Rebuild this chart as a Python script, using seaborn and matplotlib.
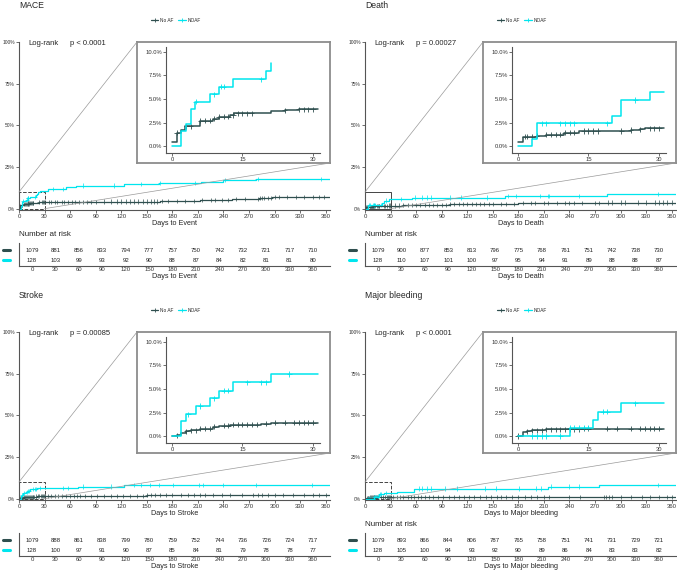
import numpy as np
import pandas as pd
import seaborn as sns
import matplotlib.pyplot as plt
from matplotlib.lines import Line2D
from matplotlib.patches import Rectangle, ConnectionPatch

## Datos (incidencia acumulada en %)
groups = ['No AF', 'NOAF']
palette = {'No AF': '#2F4F4F', 'NOAF': '#00E5EE'}
risk_times = [0, 30, 60, 90, 120, 150, 180, 210, 240, 270, 300, 330, 360]

# MACE
mace_t_ctrl = [0, 1, 2, 2.7, 6, 8.7, 10, 12.3, 13.3, 21, 24, 27, 40, 100, 166, 212, 250, 282, 297]
mace_y_ctrl = [0.4, 1.4, 1.7, 2.1, 2.7, 2.9, 3.1, 3.3, 3.5, 3.7, 3.8, 3.9, 4.1, 4.3, 4.6, 5.2, 5.8, 6.5, 6.9]
mace_t_noaf = [0, 2, 3, 4, 4.8, 8, 10, 13, 20, 21, 22, 25, 34, 55, 67, 123, 164, 214, 240, 278]
mace_y_noaf = [0, 1.6, 2.3, 3.9, 4.7, 5.5, 6.3, 7.1, 8.0, 8.8, 10.0, 10.8, 11.6, 13.1, 13.9, 14.7, 15.5, 16.3, 17.0, 17.8]
mace_c_ctrl = [1, 3, 4, 6, 7, 8, 9, 10, 11, 12, 13, 14, 15, 16, 17, 24, 27, 28, 29, 30, 35, 38, 42, 45, 50, 53,
               58, 62, 66, 70, 75, 80, 85, 90, 100, 108, 115, 120, 125, 130, 135, 140, 145, 150, 155, 158, 162,
               168, 175, 185, 195, 205, 215, 225, 230, 238, 245, 255, 265, 281, 283, 285, 288, 292, 296, 300,
               305, 315, 325, 335, 345, 352, 358]
mace_c_noaf = [5, 9, 10.5, 11, 19, 40, 52, 75, 112, 143, 166, 207, 242, 280, 354]
mace_risk_ctrl = [1079, 881, 856, 833, 794, 777, 757, 750, 742, 732, 721, 717, 710]
mace_risk_noaf = [128, 103, 99, 93, 92, 90, 88, 87, 84, 82, 81, 81, 80]

# Death
death_t_ctrl = [0, 1, 4, 6, 9.7, 13, 24, 26, 27, 45, 100, 180, 280]
death_y_ctrl = [0.4, 1.0, 1.1, 1.2, 1.4, 1.6, 1.7, 1.8, 1.9, 2.3, 2.8, 3.2, 3.7]
death_t_noaf = [0, 3, 4, 20, 22, 28, 55, 164, 284]
death_y_noaf = [0, 0.8, 2.4, 3.2, 4.9, 5.7, 6.7, 7.6, 8.6]
death_c_ctrl = [1.5, 2, 3, 4, 6, 7, 8, 9, 10, 11, 12, 14, 15, 16, 17, 22, 24, 26, 28, 29, 30, 35, 40, 45, 50,
                55, 60, 65, 70, 75, 80, 85, 90, 95, 100, 105, 110, 115, 120, 125, 130, 135, 140, 145, 150, 160,
                165, 175, 185, 195, 200, 210, 215, 225, 235, 240, 245, 255, 270, 275, 285, 290, 300, 305, 320,
                330, 340, 345, 350, 355, 360]
death_c_noaf = [5, 6, 9, 10, 11, 12, 19, 25, 42, 59, 67, 73, 77, 100, 113, 143, 168, 177, 205, 215, 216, 251, 344]
death_risk_ctrl = [1079, 900, 877, 853, 813, 796, 775, 768, 761, 751, 742, 738, 730]
death_risk_noaf = [128, 110, 107, 101, 100, 97, 95, 94, 91, 89, 88, 88, 87]

# Stroke
stroke_t_ctrl = [0, 1, 2, 3, 4, 6, 8.7, 10, 12.3, 19, 21, 60, 150, 280]
stroke_y_ctrl = [0, 0.1, 0.3, 0.5, 0.6, 0.8, 1.0, 1.1, 1.2, 1.3, 1.4, 1.6, 2.0, 2.2]
stroke_t_noaf = [0, 2, 3, 5, 8, 10, 13, 21, 69, 123]
stroke_y_noaf = [0, 1.6, 2.3, 3.2, 4.0, 4.8, 5.7, 6.6, 7.3, 8.4]
stroke_c_ctrl = [1, 3, 4, 5, 6, 7, 8, 9, 11, 12, 13, 14, 15, 16, 17, 18, 20, 22, 24, 26, 27, 28, 29, 30, 34,
                 38, 42, 46, 50, 55, 60, 64, 68, 72, 78, 85, 92, 100, 108, 115, 122, 130, 138, 145, 150, 155,
                 160, 165, 172, 180, 190, 198, 205, 212, 218, 228, 238, 248, 262, 275, 280, 285, 292, 300, 310,
                 322, 335, 345, 352, 360]
stroke_c_noaf = [3.5, 6, 9, 11, 12, 16, 19, 20, 25, 52, 57, 75, 108, 135, 143, 154, 164, 181, 211, 216, 240,
                 278, 344]
stroke_risk_ctrl = [1079, 888, 861, 838, 799, 780, 759, 752, 744, 736, 726, 724, 717]
stroke_risk_noaf = [128, 100, 97, 91, 90, 87, 85, 84, 81, 79, 78, 78, 77]

# Major bleeding
bleed_t_ctrl = [0, 1, 2, 3, 6, 14, 120, 280]
bleed_y_ctrl = [0, 0.4, 0.5, 0.6, 0.7, 0.8, 1.0, 1.2]
bleed_t_noaf = [0, 11, 16, 17, 22, 38, 57, 215, 275]
bleed_y_noaf = [0, 0.9, 1.7, 2.6, 3.5, 4.3, 6.1, 7.3, 8.4]
bleed_c_ctrl = [0, 2, 3, 4, 5, 6, 7, 8, 9, 10, 11, 12, 13, 14, 15, 19, 21, 24, 26, 27, 28, 29, 30, 33, 37,
                41, 45, 50, 54, 58, 62, 66, 70, 75, 80, 86, 92, 98, 104, 110, 116, 122, 128, 135, 142, 148, 155,
                160, 166, 172, 180, 188, 195, 202, 210, 216, 240, 252, 280, 283, 286, 290, 300, 312, 325, 335,
                345, 355, 360]
bleed_c_noaf = [3, 4, 5, 6, 9, 11, 12, 13, 14, 15, 18, 19, 25, 63, 67, 73, 77, 94, 108, 141, 154, 181, 201,
                207, 218, 240, 251, 344]
bleed_risk_ctrl = [1079, 893, 866, 844, 806, 787, 765, 758, 751, 741, 731, 729, 721]
bleed_risk_noaf = [128, 105, 100, 94, 93, 92, 90, 89, 86, 84, 83, 83, 82]

titles = ['MACE', 'Death', 'Stroke', 'Major bleeding']
xlabels = ['Days to Event', 'Days to Death', 'Days to Stroke', 'Days to Major bleeding']
pvals = ['p < 0.0001', 'p = 0.00027', 'p = 0.00085', 'p < 0.0001']

panels = [
    (mace_t_ctrl, mace_y_ctrl, mace_t_noaf, mace_y_noaf, mace_c_ctrl, mace_c_noaf, mace_risk_ctrl, mace_risk_noaf, 21),
    (death_t_ctrl, death_y_ctrl, death_t_noaf, death_y_noaf, death_c_ctrl, death_c_noaf, death_risk_ctrl, death_risk_noaf, 31),
    (stroke_t_ctrl, stroke_y_ctrl, stroke_t_noaf, stroke_y_noaf, stroke_c_ctrl, stroke_c_noaf, stroke_risk_ctrl, stroke_risk_noaf, 31),
    (bleed_t_ctrl, bleed_y_ctrl, bleed_t_noaf, bleed_y_noaf, bleed_c_ctrl, bleed_c_noaf, bleed_risk_ctrl, bleed_risk_noaf, 31),
]
offsets = [(0, 0), (346, 0), (0, 290), (346, 290)]
show_risk_title = [True, True, False, True]
rect_style = ['--', '-', '--', '--']

sns.set_theme(style='ticks')
plt.rcParams['font.family'] = ['Liberation Sans', 'DejaVu Sans']

W, H = 677, 577
fig = plt.figure(figsize=(W / 100, H / 100), dpi=100)


def fbox(x0, y0, x1, y1):
    return [x0 / W, 1 - y1 / H, (x1 - x0) / W, (y1 - y0) / H]


def fxy(x, y):
    return (x / W, 1 - y / H)


def step_df(t_list, y_list, group, end):
    t = [v for v in t_list if v <= end]
    y = y_list[:len(t)]
    return pd.DataFrame({'time': t + [end], 'risk': y + [y[-1]], 'group': group})


def cens_df(t_list, y_list, c_list, group, end):
    c = np.array([v for v in c_list if v <= end])
    idx = np.searchsorted(np.array(t_list), c, side='right') - 1
    return pd.DataFrame({'time': c, 'risk': np.array(y_list)[idx], 'group': group})


def style_axis(ax, lab_size):
    sns.despine(ax=ax)
    for s in ['left', 'bottom']:
        ax.spines[s].set_color('#555555')
        ax.spines[s].set_linewidth(0.8)
    ax.tick_params(length=2, width=0.6, color='#555555', labelcolor='#333333', labelsize=lab_size, pad=1)


for i, (tc, yc, tn, yn, cc, cn, rc, rn, inset_end) in enumerate(panels):
    ox, oy = offsets[i]

    fig.text(*fxy(ox + 19, oy + 6), titles[i], fontsize=6.2, va='center', ha='left')
    handles = [Line2D([], [], color=palette[g], marker='+', lw=0.9, ms=3, mew=0.6) for g in groups]
    fig.legend(handles, groups, loc='center', bbox_to_anchor=fxy(ox + 176, oy + 20), ncol=2, frameon=False,
               fontsize=3.4, handlelength=1.6, handletextpad=0.4, columnspacing=1.0)

    # curva principal
    ax = fig.add_axes(fbox(ox + 19, oy + 42, ox + 330, oy + 210))
    df = pd.concat([step_df(tc, yc, 'No AF', 365), step_df(tn, yn, 'NOAF', 365)])
    dfc = pd.concat([cens_df(tc, yc, cc, 'No AF', 365), cens_df(tn, yn, cn, 'NOAF', 365)])
    sns.lineplot(data=df, x='time', y='risk', hue='group', palette=palette, estimator=None, sort=False,
                 drawstyle='steps-post', lw=0.9, legend=False, ax=ax)
    sns.scatterplot(data=dfc, x='time', y='risk', hue='group', palette=palette, marker='+', s=9,
                    linewidth=0.5, legend=False, ax=ax)
    ax.set_xlim(0, 365)
    ax.set_ylim(-0.8, 100)
    ax.set_xticks(risk_times)
    ax.set_yticks([0, 25, 50, 75, 100])
    ax.set_yticklabels(['0%', '25%', '50%', '75%', '100%'])
    ax.set_xlabel(xlabels[i], fontsize=5.2, labelpad=0.5)
    ax.set_ylabel('')
    style_axis(ax, 4.3)
    ax.tick_params(axis='y', labelsize=3.5)
    ax.add_patch(Rectangle((0, 0), 30, 10, fill=False, ec='#444444', lw=0.7, ls=rect_style[i]))
    ax.text(0.03, 0.99, 'Log-rank', transform=ax.transAxes, fontsize=5.5, va='center')
    ax.text(0.165, 0.99, pvals[i], transform=ax.transAxes, fontsize=5.5, va='center')

    for xa, xb in [((0, 10), fxy(ox + 137, oy + 42)), ((30, 0), fxy(ox + 330, oy + 163))]:
        con = ConnectionPatch(xyA=xa, coordsA=ax.transData, xyB=xb, coordsB=fig.transFigure,
                              color='#9a9a9a', lw=0.5)
        fig.add_artist(con)

    # recuadro ampliado
    bax = fig.add_axes(fbox(ox + 137, oy + 42, ox + 330, oy + 163))
    bax.set_xticks([])
    bax.set_yticks([])
    for s in bax.spines.values():
        s.set_color('#8c8c8c')
        s.set_linewidth(1.3)
    iax = fig.add_axes(fbox(ox + 166, oy + 47, ox + 320, oy + 153))
    iax.patch.set_alpha(0)
    dfi = pd.concat([step_df(tc, yc, 'No AF', 31), step_df(tn, yn, 'NOAF', inset_end)])
    dfic = pd.concat([cens_df(tc, yc, cc, 'No AF', 31), cens_df(tn, yn, cn, 'NOAF', inset_end)])
    sns.lineplot(data=dfi, x='time', y='risk', hue='group', palette=palette, estimator=None, sort=False,
                 drawstyle='steps-post', lw=1.1, legend=False, ax=iax)
    sns.scatterplot(data=dfic, x='time', y='risk', hue='group', palette=palette, marker='+', s=14,
                    linewidth=0.6, legend=False, ax=iax)
    iax.set_xlim(-1.28, 31.5)
    iax.set_ylim(-0.74, 10.53)
    iax.set_xticks([0, 15, 30])
    iax.set_yticks([0, 2.5, 5, 7.5, 10])
    iax.set_yticklabels(['0.0%', '2.5%', '5.0%', '7.5%', '10.0%'])
    iax.set_xlabel('')
    iax.set_ylabel('')
    style_axis(iax, 4.2)

    # tabla de numero en riesgo
    if show_risk_title[i]:
        fig.text(*fxy(ox + 19, oy + 235), 'Number at risk', fontsize=5.8, va='center', ha='left')
    tax = fig.add_axes(fbox(ox + 19, oy + 243, ox + 330, oy + 266))
    tax.set_xlim(-16.7, 381.8)
    tax.set_ylim(0.4, 2.7)
    for t, a, b in zip(risk_times, rc, rn):
        tax.text(t, 2, str(a), ha='center', va='center', fontsize=4.3, color='#222222')
        tax.text(t, 1, str(b), ha='center', va='center', fontsize=4.3, color='#222222')
    tax.set_xticks(risk_times)
    tax.set_yticks([])
    tax.set_xlabel(xlabels[i], fontsize=5.2, labelpad=0.5)
    style_axis(tax, 4.3)
    tax.tick_params(axis='x', length=0)
    for g, row in zip(groups, [250, 260]):
        fig.add_artist(Line2D([(ox + 3) / W, (ox + 10) / W], [1 - (oy + row) / H] * 2,
                              color=palette[g], lw=2.2))

fig.savefig('out.png', dpi=100)
